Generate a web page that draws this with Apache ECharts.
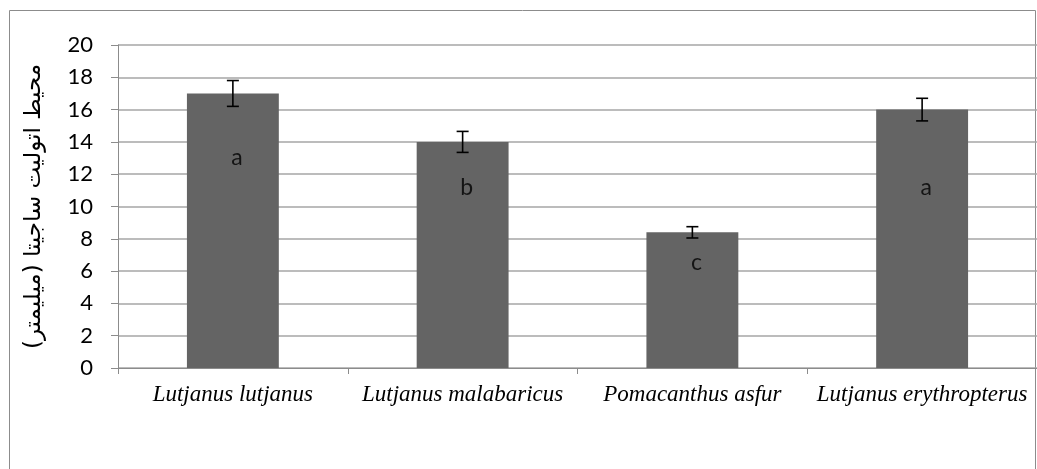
<!DOCTYPE html>
<html><head><meta charset="utf-8">
<script src="https://cdn.jsdelivr.net/npm/echarts@6/dist/echarts.min.js"></script>
<style>html,body{margin:0;padding:0;background:#fff}#c{width:1037px;height:469px}</style>
</head><body><div id="c"></div>
<script>
const categories = ['Lutjanus lutjanus', 'Lutjanus malabaricus', 'Pomacanthus asfur', 'Lutjanus erythropterus'];
const values = [17, 14, 8.4, 16];
const errors = [0.8, 0.65, 0.35, 0.7];
const letters = ['a', 'b', 'c', 'a'];
const letterY = [13, 11.2, 6.5, 11.2];
const yTicks = [0, 2, 4, 6, 8, 10, 12, 14, 16, 18, 20];

const chart = echarts.init(document.getElementById('c'));
chart.setOption({
  animation: false,
  graphic: [{type: 'rect', shape: {x: 9.5, y: 10.5, width: 1026, height: 480}, style: {fill: 'none', stroke: '#8c8c8c', lineWidth: 1}, silent: true}],
  grid: {left: 118, right: -1, top: 45, bottom: 101},
  xAxis: {
    type: 'category', data: categories,
    axisLine: {lineStyle: {color: '#8c8c8c'}},
    axisTick: {show: true, interval: 0, length: 6, lineStyle: {color: '#8c8c8c'}},
    axisLabel: {interval: 0, fontFamily: 'Liberation Serif', fontStyle: 'italic', fontSize: 23, color: '#000', margin: 15}
  },
  yAxis: {
    type: 'value', min: 0, max: 20, interval: 2,
    name: 'محیط اتولیت ساجیتا (میلیمتر)', nameLocation: 'middle', nameGap: 72, nameRotate: 90,
    nameTextStyle: {fontFamily: 'DejaVu Sans', fontSize: 23, color: '#000'},
    axisLine: {show: true, lineStyle: {color: '#8c8c8c'}},
    axisTick: {show: true, length: 7, lineStyle: {color: '#8c8c8c'}},
    axisLabel: {fontFamily: 'Lato', fontSize: 22, color: '#000', margin: 25,
      formatter: v => yTicks.includes(v) ? String(v) : ''},
    splitLine: {lineStyle: {color: '#a6a6a6', width: 1.5}}
  },
  series: [
    {type: 'bar', data: values, barWidth: '40%', itemStyle: {color: '#646464'}, z: 2},
    {type: 'custom', z: 5,
      data: values.map((v, i) => [i, v - errors[i], v + errors[i]]),
      renderItem: (params, api) => {
        const lo = api.coord([api.value(0), api.value(1)]);
        const hi = api.coord([api.value(0), api.value(2)]);
        const x = lo[0], w = 6;
        const st = {stroke: '#000', lineWidth: 1.6};
        return {type: 'group', children: [
          {type: 'line', shape: {x1: x, y1: lo[1], x2: x, y2: hi[1]}, style: st},
          {type: 'line', shape: {x1: x - w, y1: lo[1], x2: x + w, y2: lo[1]}, style: st},
          {type: 'line', shape: {x1: x - w, y1: hi[1], x2: x + w, y2: hi[1]}, style: st}
        ]};
      }
    },
    {type: 'scatter', symbolSize: 0, z: 6,
      data: letters.map((l, i) => ({value: [i, letterY[i]], name: l})),
      label: {show: true, position: 'inside', offset: [4, 0], formatter: p => p.name, fontFamily: 'Lato', fontSize: 23, color: '#000'}
    }
  ]
});
</script></body></html>
